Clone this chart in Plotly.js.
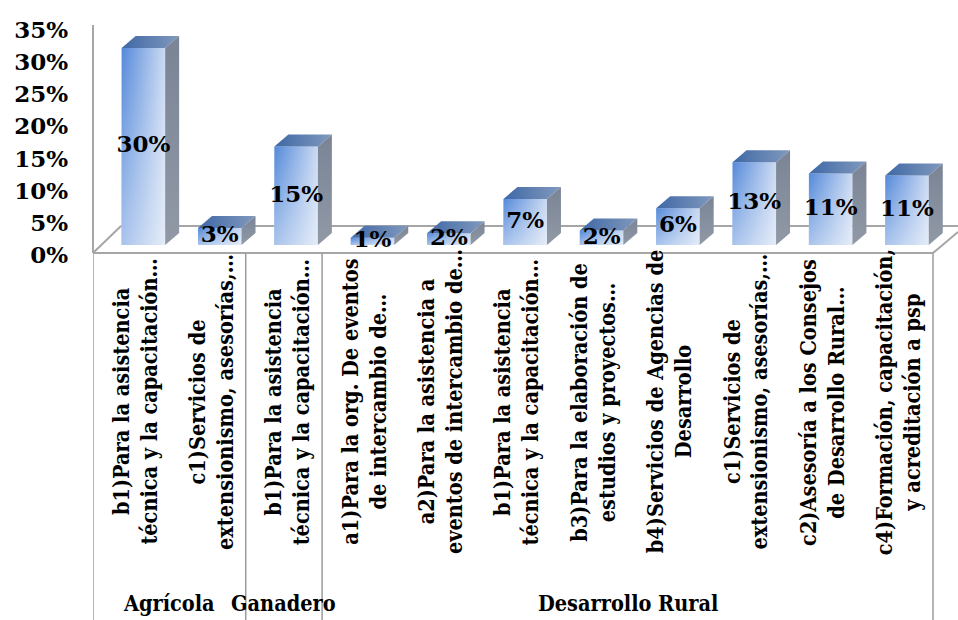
<!DOCTYPE html>
<html><head><meta charset="utf-8">
<script src="https://cdn.plot.ly/plotly-3.0.1.min.js"></script>
<style>html,body{margin:0;padding:0;background:#fff}#chart{width:958px;height:620px}</style>
</head><body><div id="chart"></div>
<script>
// ---- data ----
const categories = [
  "b1)Para la asistencia<br>técnica y la capacitación…",
  "c1)Servicios de<br>extensionismo, asesorías,…",
  "b1)Para la asistencia<br>técnica y la capacitación…",
  "a1)Para la org. De eventos<br>de intercambio de…",
  "a2)Para la asistencia a<br>eventos de intercambio de…",
  "b1)Para la asistencia<br>técnica y la capacitación…",
  "b3)Para la elaboración de<br>estudios y proyectos…",
  "b4)Servicios de Agencias de<br>Desarrollo",
  "c1)Servicios de<br>extensionismo, asesorías,…",
  "c2)Asesoría a los Consejos<br>de Desarrollo Rural…",
  "c4)Formación, capacitación,<br>y acreditación a psp"
];
const groupNames = ["Agrícola", "Ganadero", "Desarrollo Rural"];
const groupSizes = [2, 1, 8];
const values = [0.30, 0.026, 0.15, 0.011, 0.018, 0.07, 0.022, 0.056, 0.126, 0.109, 0.106];
const tickValues = [0, 0.05, 0.10, 0.15, 0.20, 0.25, 0.30, 0.35];

// ---- layout geometry ----
const W = 958, H = 620, L = 93, R = 0, T = 30, B = 365;
const plotW = W - L - R, plotH = H - T - B;
const px = x => (x - L) / plotW;
const py = y => (H - B - y) / plotH;
const FRONT_OFF = -0.125, FRONT_W = 0.57, DEPTH_X = 0.183, DEPTH_Y = 0.0183;
const LABEL_DX = 0.045;
const numFont = {family: "DejaVu Serif", size: 23, weight: "bold", color: "#000"};
const txtFont = {family: "DejaVu Serif Condensed, DejaVu Serif", size: 21.5, weight: "bold", color: "#000"};

const idx = categories.map((_, i) => i);
const traces = [];

// carrier trace so the percentage axis is drawn
traces.push({type: "scatter", mode: "markers", x: [0], y: [0], marker: {opacity: 0},
  xaxis: "x", yaxis: "y", hoverinfo: "skip", showlegend: false});

// front faces (bars)
traces.push({
  type: "bar", x: idx, y: values, width: FRONT_W, offset: FRONT_OFF,
  marker: {color: "#dbe5f5", line: {width: 0}},
  xaxis: "x", yaxis: "y2", hoverinfo: "skip", showlegend: false
});

values.forEach((v, i) => {
  const x0 = i + FRONT_OFF, x1 = x0 + FRONT_W;
  traces.push({
    type: "scatter", mode: "lines", x: [x0, x1, x1, x0, x0], y: [0, 0, v, v, 0],
    fill: "toself", line: {width: 0}, fillcolor: "rgba(91,143,220,0.5)",
    fillgradient: {type: "horizontal", colorscale: [[0, "rgba(84,137,218,1)"], [1, "rgba(84,137,218,0.12)"]]},
    xaxis: "x", yaxis: "y2", hoverinfo: "skip", showlegend: false
  });
  traces.push({
    type: "scatter", mode: "lines", x: [x0, x1, x1, x0, x0], y: [0, 0, v, v, 0],
    fill: "toself", line: {width: 0}, fillcolor: "rgba(255,255,255,0.2)",
    fillgradient: {type: "vertical", colorscale: [[0, "rgba(255,255,255,0.5)"], [1, "rgba(255,255,255,0)"]]},
    xaxis: "x", yaxis: "y2", hoverinfo: "skip", showlegend: false
  });
  traces.push({
    type: "scatter", mode: "lines",
    x: [x0, x1, x1 + DEPTH_X, x0 + DEPTH_X, x0], y: [v, v, v + DEPTH_Y, v + DEPTH_Y, v],
    fill: "toself", line: {width: 0}, fillcolor: "#5a7db0",
    fillgradient: {type: "horizontal", colorscale: [[0, "#3f68a6"], [1, "#8199bd"]]},
    xaxis: "x", yaxis: "y2", hoverinfo: "skip", showlegend: false
  });
  traces.push({
    type: "scatter", mode: "lines",
    x: [x1, x1 + DEPTH_X, x1 + DEPTH_X, x1, x1], y: [0, DEPTH_Y, v + DEPTH_Y, v, 0],
    fill: "toself", line: {width: 0}, fillcolor: "#848e9d",
    fillgradient: {type: "vertical", colorscale: [[0, "#9199a6"], [1, "#7a8495"]]},
    xaxis: "x", yaxis: "y2", hoverinfo: "skip", showlegend: false
  });
});

// value labels
traces.push({
  type: "scatter", mode: "text",
  x: idx.map(i => i + FRONT_OFF + FRONT_W / 2), y: values.map(v => v / 2),
  text: values.map(v => Math.round(v * 100) + "%"),
  textposition: "middle center", textfont: numFont, cliponaxis: false,
  xaxis: "x", yaxis: "y2", hoverinfo: "skip", showlegend: false
});

// ---- shapes ----
const lineCol = "#a6a6a6";
const shapes = [
  {type: "line", xref: "paper", yref: "paper", x0: px(93), x1: px(93), y0: py(25), y1: py(253), line: {color: lineCol, width: 2}, layer: "below"},
  {type: "line", xref: "paper", yref: "paper", x0: px(93), x1: px(933), y0: py(253), y1: py(253), line: {color: lineCol, width: 2}, layer: "below"},
  {type: "line", xref: "paper", yref: "paper", x0: px(93), x1: px(121), y0: py(253), y1: py(226), line: {color: lineCol, width: 2}, layer: "below"},
  {type: "line", xref: "paper", yref: "paper", x0: px(121), x1: px(958), y0: py(226), y1: py(226), line: {color: lineCol, width: 2}, layer: "below"},
  {type: "line", xref: "paper", yref: "paper", x0: px(933), x1: px(958), y0: py(253), y1: py(232), line: {color: lineCol, width: 2}, layer: "below"}
];
let acc = 0;
const bounds = [-0.5];
groupSizes.forEach(s => { acc += s; bounds.push(acc - 0.5); });
bounds.forEach(b => shapes.push({
  type: "line", xref: "x", yref: "paper", x0: b, x1: b, y0: py(253), y1: py(620),
  line: {color: "#9c9c9c", width: 1.5}, layer: "below"
}));

// ---- annotations ----
const annotations = categories.map((c, i) => ({
  text: c, x: i + LABEL_DX, xref: "x", y: py(402), yref: "paper",
  textangle: -90, showarrow: false, align: "center", xanchor: "center", yanchor: "middle",
  font: txtFont
}));
groupNames.forEach((g, k) => {
  annotations.push({
    text: g, x: (bounds[k] + bounds[k + 1]) / 2, xref: "x", y: py(603), yref: "paper",
    showarrow: false, xanchor: "center", yanchor: "middle", font: txtFont
  });
});

const layout = {
  width: W, height: H, margin: {l: L, r: R, t: T, b: B},
  paper_bgcolor: "#fff", plot_bgcolor: "rgba(0,0,0,0)", showlegend: false,
  xaxis: {range: [-0.5, 10.5 + 25 / 76.36], visible: false, fixedrange: true},
  yaxis: {range: [0, 0.35], tickvals: tickValues, tickformat: ".0%", tickfont: numFont,
          showgrid: false, zeroline: false, showline: false, ticks: "", ticklabelstandoff: 24, fixedrange: true},
  yaxis2: {range: [-10 / 656.67, 215 / 656.67], overlaying: "y", visible: false, fixedrange: true},
  shapes: shapes, annotations: annotations
};

Plotly.newPlot("chart", traces, layout, {displayModeBar: false, staticPlot: true});
</script>
</body></html>
